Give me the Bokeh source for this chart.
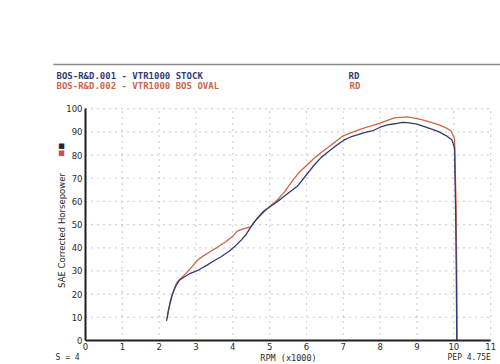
import math
from bokeh.plotting import figure
from bokeh.models import Label, FixedTicker, Range1d
from bokeh.embed import file_html
from bokeh.resources import INLINE

# ---- data ----
stock_rpm = [2.20, 2.25, 2.35, 2.45, 2.55, 2.67, 2.85, 3.08, 3.30, 3.50, 3.67, 3.90,
             4.05, 4.21, 4.35, 4.48, 4.65, 4.85, 5.12, 5.30, 5.50, 5.75, 6.00, 6.20,
             6.40, 6.60, 6.80, 7.00, 7.20, 7.40, 7.60, 7.80, 8.00, 8.20, 8.40, 8.60,
             8.75, 9.00, 9.20, 9.40, 9.60, 9.80, 9.95, 10.02, 10.05, 10.07, 10.08]
stock_hp = [8.5, 13.0, 19.5, 23.5, 26.0, 27.3, 29.0, 30.5, 32.5, 34.5, 36.0, 38.5,
            40.5, 43.0, 45.5, 48.8, 52.5, 56.0, 58.9, 61.0, 63.5, 66.5, 71.5, 75.5,
            79.0, 81.5, 84.0, 86.3, 87.8, 88.8, 89.8, 90.5, 92.0, 93.0, 93.5, 94.1,
            94.0, 93.3, 92.3, 91.2, 90.0, 88.3, 86.5, 83.0, 55.0, 25.0, 0.0]

bos_rpm = [2.22, 2.30, 2.40, 2.50, 2.67, 2.85, 3.03, 3.20, 3.40, 3.58, 3.80, 4.00,
           4.12, 4.30, 4.48, 4.60, 4.70, 4.88, 5.03, 5.20, 5.40, 5.62, 5.80, 6.00,
           6.20, 6.39, 6.60, 6.80, 7.00, 7.20, 7.40, 7.60, 7.80, 8.00, 8.20, 8.38,
           8.55, 8.74, 9.00, 9.20, 9.38, 9.60, 9.80, 9.92, 10.02, 10.06, 10.08, 10.09]
bos_hp = [9.5, 17.0, 22.0, 25.5, 28.0, 31.0, 34.5, 36.5, 38.5, 40.2, 42.5, 45.0,
          47.2, 48.3, 49.0, 51.5, 53.2, 56.0, 58.2, 60.5, 64.0, 69.0, 72.5, 75.5,
          78.5, 81.0, 83.5, 86.0, 88.3, 89.6, 90.8, 91.8, 92.8, 93.8, 95.0, 96.0,
          96.3, 96.5, 95.7, 95.0, 94.1, 93.0, 91.6, 90.5, 87.0, 60.0, 30.0, 0.0]

x_ticks = [0, 1, 2, 3, 4, 5, 6, 7, 8, 9, 10, 11]
y_ticks = [0, 10, 20, 30, 40, 50, 60, 70, 80, 90, 100]

run1_name = "BOS-R&D.001 - VTR1000 STOCK"
run2_name = "BOS-R&D.002 - VTR1000 BOS OVAL"
run_tag = "RD"
y_title = "SAE Corrected Horsepower"
x_title = "RPM (x1000)"
left_note = "S = 4"
right_note = "PEP 4.75E"

NAVY = "#333a76"
RED = "#cf6648"
GRID = "#a9a9a9"
AXIS = "#1e1e24"
TXT = "#2a2a2a"
MONO = "DejaVu Sans Mono"
SANS = "DejaVu Sans"

PXX = 36.83   # px per 1000 rpm
PXY = 2.318   # px per hp
X0, Y0 = 85.0, 340.0
W, H = 500, 364

p = figure(width=W, height=H,
           x_range=Range1d(-X0 / PXX, (W - X0) / PXX),
           y_range=Range1d((Y0 - H) / PXY, Y0 / PXY),
           output_backend="svg", toolbar_location=None, min_border=0)
p.outline_line_color = None
p.background_fill_color = "white"
p.grid.visible = False

x_max, y_max = x_ticks[-1], y_ticks[-1]
# dotted grid, bounded to the chart area
p.segment(x0=x_ticks[1:], y0=[0] * (len(x_ticks) - 1), x1=x_ticks[1:], y1=[y_max] * (len(x_ticks) - 1),
          line_color=GRID, line_dash="1 5", line_width=1.2)
p.segment(x0=[0] * (len(y_ticks) - 1), y0=y_ticks[1:], x1=[x_max] * (len(y_ticks) - 1), y1=y_ticks[1:],
          line_color=GRID, line_dash="1 5", line_width=1.2)

for ax, b in ((p.xaxis[0], (0, x_max)), (p.yaxis[0], (0, y_max))):
    ax.fixed_location = 0
    ax.bounds = b
    ax.axis_line_color = AXIS
    ax.axis_line_width = 2
    ax.major_tick_line_color = None
    ax.minor_tick_line_color = None
    ax.major_tick_out = 0
    ax.major_tick_in = 0
    ax.major_label_text_font = SANS
    ax.major_label_text_font_size = "8.5px"
    ax.major_label_text_color = TXT
p.xaxis[0].ticker = FixedTicker(ticks=x_ticks)
p.yaxis[0].ticker = FixedTicker(ticks=y_ticks)
p.xaxis[0].major_label_standoff = 2
p.yaxis[0].major_label_standoff = 3

p.line(bos_rpm, bos_hp, line_color=RED, line_width=1.3)
p.line(stock_rpm, stock_hp, line_color=NAVY, line_width=1.3)

def lab(x, y, text, color=TXT, font=SANS, size="8.5px", align="left", bold=False, angle=0.0):
    p.add_layout(Label(x=x, y=y, text=text, text_color=color, text_font=font,
                       text_font_size=size, text_align=align, text_baseline="middle",
                       text_font_style="bold" if bold else "normal", angle=angle))

def px_x(px):
    return (px - X0) / PXX

def px_y(py):
    return (Y0 - py) / PXY

# header rule and run names
p.line([px_x(53), px_x(500)], [px_y(64), px_y(64)], line_color="#8a8a8a", line_width=1.5)
lab(px_x(56), px_y(75), run1_name, NAVY, MONO, "9px", bold=True)
lab(px_x(56), px_y(85), run2_name, RED, MONO, "9px", bold=True)
lab(px_x(348), px_y(75), run_tag, NAVY, MONO, "9px", bold=True)
lab(px_x(349), px_y(85), run_tag, RED, MONO, "9px", bold=True)

# y title and legend squares
lab(px_x(61), px_y(230), y_title, angle=math.pi / 2, align="center")
lab(px_x(61), px_y(145), "■", "#2a1f2e", size="7px", align="center")
lab(px_x(61), px_y(152), "■", "#c9504a", size="7px", align="center")

# bottom notes
lab(px_x(55), px_y(357), left_note, font=MONO, size="8px")
lab(px_x(288), px_y(357), x_title, font=MONO, size="8.5px", align="center")
lab(px_x(447), px_y(357), right_note, font=MONO, size="8px")

open("out.html", "w").write(file_html(p, INLINE))
